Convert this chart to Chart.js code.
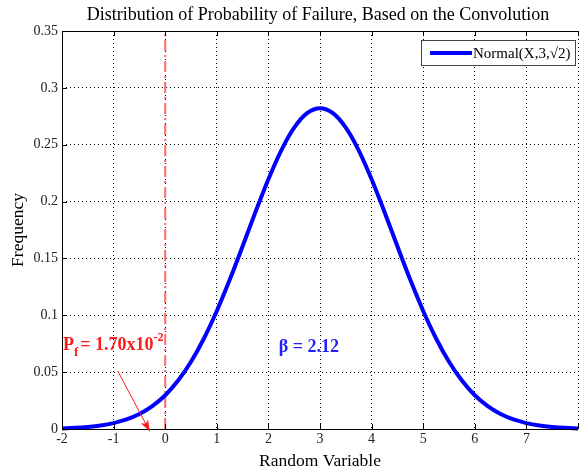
<!DOCTYPE html>
<html><head><meta charset="utf-8">
<script src="https://cdn.jsdelivr.net/npm/chart.js@4/dist/chart.umd.min.js"></script>
<style>html,body{margin:0;padding:0;background:#fff}#wrap{width:580px;height:469px}</style>
</head><body><div id="wrap"><canvas id="c" width="580" height="469"></canvas></div>
<script>
// Data
const xValues = [-2,-1.75,-1.5,-1.25,-1,-0.75,-0.5,-0.25,0,0.25,0.5,0.75,1,1.25,1.5,1.75,2,2.25,2.5,2.75,3,3.25,3.5,3.75,4,4.25,4.5,4.75,5,5.25,5.5,5.75,6,6.25,6.5,6.75,7,7.25,7.5,7.75,8];
const freqValues = [0.0005,0.0010,0.0018,0.0031,0.0052,0.0084,0.0132,0.0201,0.0297,0.0426,0.0591,0.0796,0.1038,0.1312,0.1607,0.1909,0.2197,0.2451,0.2650,0.2777,0.2821,0.2777,0.2650,0.2451,0.2197,0.1909,0.1607,0.1312,0.1038,0.0796,0.0591,0.0426,0.0297,0.0201,0.0132,0.0084,0.0052,0.0031,0.0018,0.0010,0.0005];
const limitX = [0, 0];
const limitY = [0, 0.35];
const xTicks = [-2,-1,0,1,2,3,4,5,6,7,8];
const yTicks = [0,0.05,0.1,0.15,0.2,0.25,0.3,0.35];
const titleText = 'Distribution of Probability of Failure, Based on the Convolution';
const legendLabel = 'Normal(X,3,\u221A2)';

const SERIF = '"Liberation Serif","Times New Roman",serif';

const framePlugin = {
  id: 'frame',
  afterDraw(chart) {
    const ctx = chart.ctx, a = chart.chartArea;
    const xs = chart.scales.x, ys = chart.scales.y;
    ctx.save();
    // title centred over the plot area
    ctx.fillStyle = '#000';
    ctx.font = '18px ' + SERIF;
    ctx.textAlign = 'center';
    ctx.textBaseline = 'middle';
    ctx.fillText(titleText, (a.left + a.right) / 2 - 2, 15);

    ctx.strokeStyle = '#000';
    ctx.lineWidth = 1;
    ctx.beginPath();
    ctx.moveTo(a.left + 0.5, a.bottom + 0.5); ctx.lineTo(a.left + 0.5, a.top + 0.5); ctx.lineTo(a.right, a.top + 0.5);
    ctx.moveTo(a.left, a.bottom + 0.5); ctx.lineTo(a.right, a.bottom + 0.5);
    xTicks.forEach(v => {
      const px = Math.round(xs.getPixelForValue(v)) + 0.5;
      ctx.moveTo(px, a.bottom); ctx.lineTo(px, a.bottom - 5);
      ctx.moveTo(px, a.top); ctx.lineTo(px, a.top + 5);
    });
    yTicks.forEach(v => {
      const py = Math.round(ys.getPixelForValue(v)) + 0.5;
      ctx.moveTo(a.left, py); ctx.lineTo(a.left + 5, py);
    });
    ctx.stroke();

    // legend box
    const lx = 421, ly = 40, lw = 154, lh = 25;
    ctx.fillStyle = '#fff';
    ctx.fillRect(lx, ly, lw, lh);
    ctx.strokeStyle = '#444';
    ctx.strokeRect(lx + 0.5, ly + 0.5, lw, lh);
    ctx.strokeStyle = '#0000ff';
    ctx.lineWidth = 4;
    ctx.beginPath(); ctx.moveTo(430, 53); ctx.lineTo(472, 53); ctx.stroke();
    ctx.fillStyle = '#000';
    ctx.font = '15px ' + SERIF;
    ctx.textBaseline = 'middle';
    ctx.textAlign = 'left';
    ctx.fillText(legendLabel, 473, 54);

    // annotations
    ctx.fillStyle = '#ff1a1a';
    ctx.textBaseline = 'alphabetic';
    const bx = xs.getPixelForValue(-2) + 1, by = ys.getPixelForValue(0.07) + 1;
    ctx.font = 'bold 18px ' + SERIF;
    ctx.fillText('P', bx, by);
    let w = ctx.measureText('P').width;
    ctx.font = 'bold 13px ' + SERIF;
    ctx.fillText('f', bx + w, by + 6);
    w += ctx.measureText('f').width + 2;
    ctx.font = 'bold 18px ' + SERIF;
    ctx.fillText('= 1.70x10', bx + w, by);
    w += ctx.measureText('= 1.70x10').width;
    ctx.font = 'bold 12px ' + SERIF;
    ctx.fillText('-2', bx + w, by - 9);

    // arrow
    const x1 = xs.getPixelForValue(-0.92), y1 = ys.getPixelForValue(0.051);
    const x2 = xs.getPixelForValue(-0.3), y2 = ys.getPixelForValue(-0.002);
    ctx.strokeStyle = '#ff1a1a'; ctx.lineWidth = 1;
    ctx.beginPath(); ctx.moveTo(x1, y1); ctx.lineTo(x2, y2); ctx.stroke();
    const ang = Math.atan2(y2 - y1, x2 - x1), hl = 12, hw = 0.35;
    ctx.beginPath();
    ctx.moveTo(x2, y2);
    ctx.lineTo(x2 - hl * Math.cos(ang - hw), y2 - hl * Math.sin(ang - hw));
    ctx.lineTo(x2 - hl * 0.7 * Math.cos(ang), y2 - hl * 0.7 * Math.sin(ang));
    ctx.lineTo(x2 - hl * Math.cos(ang + hw), y2 - hl * Math.sin(ang + hw));
    ctx.closePath(); ctx.fill();

    ctx.fillStyle = '#1f1fff';
    ctx.font = 'bold 18px ' + SERIF;
    ctx.textBaseline = 'middle';
    ctx.fillText('\u03B2 = 2.12', xs.getPixelForValue(2.2), ys.getPixelForValue(0.072));
    ctx.restore();
  }
};

new Chart(document.getElementById('c'), {
  type: 'line',
  data: {
    datasets: [
      {
        label: legendLabel,
        data: xValues.map((x, i) => ({x, y: freqValues[i]})),
        borderColor: '#0000ff',
        borderWidth: 4,
        pointRadius: 0,
        cubicInterpolationMode: 'monotone',
        clip: false,
        order: 1
      },
      {
        label: 'limit',
        data: limitX.map((x, i) => ({x, y: limitY[i]})),
        borderColor: '#ff6a6a',
        borderWidth: 2,
        borderDash: [11, 4, 2, 4],
        pointRadius: 0,
        order: 2
      }
    ]
  },
  options: {
    responsive: false,
    animation: false,
    devicePixelRatio: 1,
    layout: { padding: { left: 0, right: 0, top: 31, bottom: 0 } },
    plugins: {
      legend: { display: false },
      tooltip: { enabled: false },
      title: { display: false }
    },
    scales: {
      x: {
        type: 'linear',
        min: -2, max: 8,
        afterBuildTicks: s => { s.ticks = xTicks.map(v => ({value: v})); },
        afterFit: s => { s.height = 40; },
        ticks: {
          color: '#222',
          font: { family: SERIF, size: 14 },
          padding: 2,
          maxRotation: 0,
          callback: v => (v === 8 ? '' : String(v))
        },
        grid: { color: '#000', lineWidth: 1, drawTicks: false, tickLength: 0 },
        border: { display: false, dash: [1, 3] },
        title: { display: true, text: 'Random Variable', color: '#000', font: { family: SERIF, size: 17.5 }, padding: { top: 0, bottom: -3 } }
      },
      y: {
        type: 'linear',
        min: 0, max: 0.35,
        afterBuildTicks: s => { s.ticks = yTicks.map(v => ({value: v})); },
        afterFit: s => { s.width = 62; },
        ticks: {
          color: '#222',
          font: { family: SERIF, size: 14 },
          padding: 4,
          callback: v => String(v)
        },
        grid: { color: '#000', lineWidth: 1, drawTicks: false, tickLength: 0 },
        border: { display: false, dash: [1, 3] },
        title: { display: true, text: 'Frequency', color: '#000', font: { family: SERIF, size: 17.5 }, padding: { top: 8, bottom: 4 } }
      }
    }
  },
  plugins: [framePlugin]
});
</script>
</body></html>
